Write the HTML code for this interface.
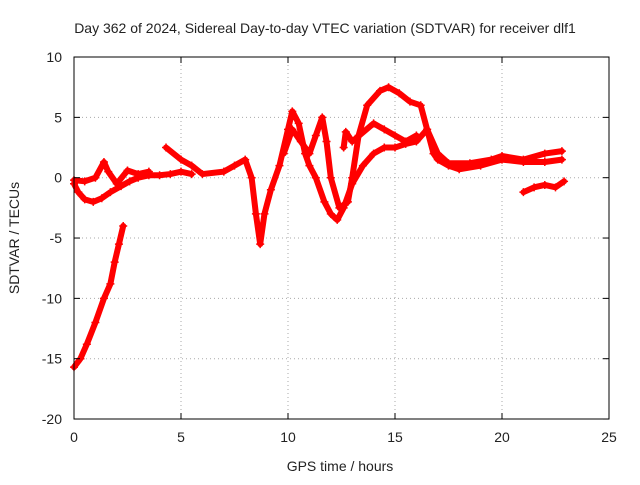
<!DOCTYPE html>
<html><head><meta charset="utf-8"><style>
body{margin:0;background:#fff;}
svg text{font-family:"Liberation Sans",sans-serif;font-size:14px;fill:#222;}
</style></head><body>
<svg id="chart" width="640" height="480">
<text x="325" y="33" text-anchor="middle">Day 362 of 2024, Sidereal Day-to-day VTEC variation (SDTVAR) for receiver dlf1</text>
<g id="grid"></g><g id="series"></g><g id="axes"></g>
<text x="340" y="471" text-anchor="middle">GPS time / hours</text>
<text transform="translate(19,238) rotate(-90)" text-anchor="middle">SDTVAR / TECUs</text>
</svg>
<script>
const xTicks=[0,5,10,15,20,25];
const yTicks=[-20,-15,-10,-5,0,5,10];
const trackA=[[0,-15.7],[0.3,-15],[0.6,-13.8],[1.0,-12],[1.4,-10],[1.7,-8.8],[1.9,-7],[2.1,-5.5],[2.3,-4]];
const trackB=[[0,-0.5],[0.2,-1.2],[0.5,-1.8],[0.9,-2],[1.3,-1.7],[1.7,-1.2],[2.2,-0.7],[2.6,-0.3],[3,0],[3.5,0.2],[4,0.2],[4.5,0.3],[5,0.5],[5.5,0.3]];
const trackC=[[0,-0.2],[0.5,-0.3],[1,0],[1.4,1.3],[1.6,0.5],[2,-0.5],[2.5,0.6],[3,0.3],[3.5,0.5]];
const trackD=[[4.3,2.5],[5,1.5],[5.5,1.0],[6,0.3],[7,0.5],[7.5,1],[8,1.5],[8.3,0],[8.5,-3],[8.7,-5.5],[8.9,-3],[9.2,-1],[9.6,1],[10,4],[10.2,5.5],[10.5,4.5],[10.8,2],[11,1],[11.3,0],[11.7,-2],[12,-3],[12.3,-3.5],[12.6,-2.5],[13,-0.5],[13.5,1],[14,2],[14.5,2.5],[15,2.5],[15.5,2.8],[16,3],[16.5,4],[16.8,2],[17,1.5],[17.5,1],[18,0.7],[19,1],[20,1.5],[21,1.3],[22,1.3],[22.8,1.5]];
const trackE=[[9.8,2],[10.2,4],[10.6,3],[11,2],[11.3,3.5],[11.6,5],[11.8,3],[12,0],[12.4,-2.5],[12.8,-2],[13,0],[13.3,3.5],[13.7,6],[14.3,7.2],[14.7,7.5],[15.2,7],[15.7,6.3],[16.2,6],[16.5,4],[17,2],[17.5,1.2],[18.5,1.2],[19.5,1.5],[20,1.8],[21,1.5],[22,2],[22.8,2.2]];
const trackF=[[21,-1.2],[21.5,-0.8],[22,-0.6],[22.5,-0.8],[22.9,-0.3]];
const trackG=[[12.6,2.5],[12.7,3.8],[13,3],[14,4.5],[14.5,4],[15,3.5],[15.5,3],[16,3.5]];
const X=v=>74+v*(535/25), Y=v=>177.7-v*(362/30);
const NS="http://www.w3.org/2000/svg";
function mk(t,a,p){const e=document.createElementNS(NS,t);for(const k in a)e.setAttribute(k,a[k]);p.appendChild(e);return e;}
const grid=document.getElementById('grid'),axes=document.getElementById('axes'),ser=document.getElementById('series');
mk('rect',{x:74,y:57,width:535,height:362,fill:'none',stroke:'#000'},axes);
xTicks.forEach(t=>{const x=X(t);
 if(t>0&&t<25){const g=mk('line',{x1:x,x2:x,y1:57,y2:419,stroke:'#aaa','stroke-dasharray':'1,3'},grid);}
 mk('line',{x1:x,x2:x,y1:419,y2:413,stroke:'#000'},axes);mk('line',{x1:x,x2:x,y1:57,y2:63,stroke:'#000'},axes);
 const l=mk('text',{x:x,y:442,'text-anchor':'middle'},axes);l.textContent=t;});
yTicks.forEach(t=>{const y=Y(t);
 if(t>-20&&t<10){const g=mk('line',{x1:74,x2:609,y1:y,y2:y,stroke:'#aaa','stroke-dasharray':'1,3'},grid);}
 mk('line',{x1:74,x2:80,y1:y,y2:y,stroke:'#000'},axes);mk('line',{x1:609,x2:603,y1:y,y2:y,stroke:'#000'},axes);
 const l=mk('text',{x:62,y:y+5,'text-anchor':'end'},axes);l.textContent=t;});
[trackA,trackB,trackC,trackD,trackE,trackF,trackG].forEach((tr,i)=>{
 const pl=mk('polyline',{points:tr.map(p=>X(p[0])+','+Y(p[1])).join(' '),fill:'none',stroke:'#f00','stroke-width':6,'stroke-linejoin':'round','stroke-linecap':'round'},ser);
 
 
 tr.forEach(p=>{const x=X(p[0]),y=Y(p[1]);
  const m=mk('path',{d:`M${x-4},${y}H${x+4}M${x},${y-4}V${y+4}`,stroke:'#f00','stroke-width':1.5},ser);
  
  });
});
</script>
</body></html>
